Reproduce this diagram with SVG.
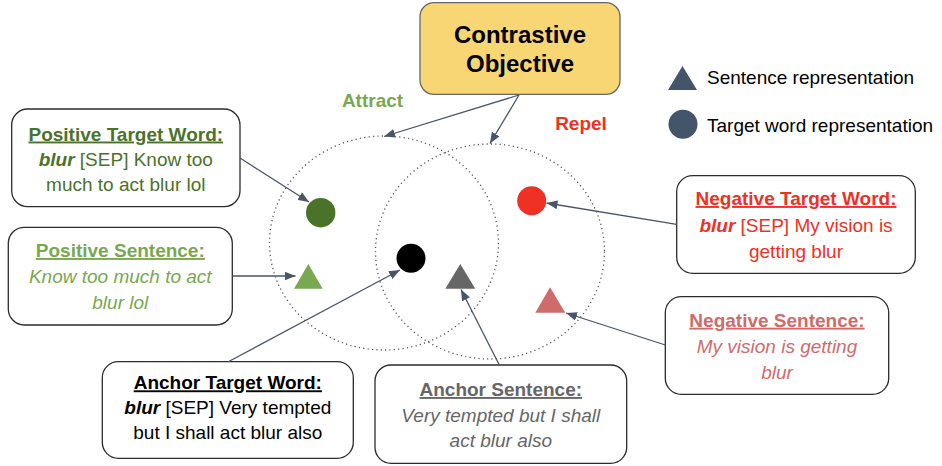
<svg xmlns="http://www.w3.org/2000/svg" width="942" height="466" viewBox="0 0 942 466">
<style>
text{font-family:"Liberation Sans",Arial,sans-serif;font-size:19px;text-anchor:middle}
.box{fill:#fff;stroke:#2b2b2b;stroke-width:1.3}
.t{font-weight:bold;text-decoration:underline}
.bi{font-weight:bold;font-style:italic}
.it{font-style:italic}
.conn line{stroke:#4a5568;stroke-width:1.3;marker-end:url(#ah)}
.dot{fill:none;stroke:#555;stroke-width:1.3;stroke-dasharray:1.2 3.2}
</style>
<defs>
<marker id="ah" viewBox="0 0 10 8" refX="10" refY="4" markerWidth="11" markerHeight="9" markerUnits="userSpaceOnUse" orient="auto">
<path d="M0,0 L10,4 L0,8 Z" fill="#4a5568"/>
</marker>
</defs>
<rect width="942" height="466" fill="#fff"/>
<g id="regions">
<ellipse class="dot" cx="384" cy="243" rx="114.5" ry="107"/>
<ellipse class="dot" cx="490" cy="251.5" rx="114.5" ry="107.5"/>
</g>
<g id="contrastive">
<rect x="420" y="2.7" width="200" height="91.6" rx="14" fill="#f8d674" stroke="#666" stroke-width="1.3"/>
<text x="520" y="43.3" style="font-size:24px;font-weight:bold">Contrastive</text>
<text x="520" y="72" style="font-size:24px;font-weight:bold">Objective</text>
</g>
<g id="labels">
<text x="372.5" y="106.7" style="font-weight:bold;fill:#7aa84f">Attract</text>
<text x="581" y="130" style="font-weight:bold;fill:#ee3124">Repel</text>
</g>
<g id="legend">
<polygon points="668,90 697,90 682.5,66" fill="#44546a"/>
<circle cx="683" cy="124.3" r="14.5" fill="#44546a"/>
<text x="707" y="84.3" style="text-anchor:start">Sentence representation</text>
<text x="707" y="132" style="text-anchor:start">Target word representation</text>
</g>
<g id="points">
<circle cx="320.7" cy="212.7" r="14.7" fill="#4a7329"/>
<polygon points="294,288.7 322.7,288.7 308.3,264" fill="#78a84f"/>
<circle cx="411" cy="258.3" r="14.5" fill="#000"/>
<polygon points="445.3,288.7 475.3,288.7 460.3,264" fill="#666"/>
<circle cx="531.7" cy="200.7" r="14.5" fill="#ee3124"/>
<polygon points="535.3,312.7 565.3,312.7 550,287.3" fill="#d06b6b"/>
</g>
<g id="pos-target" fill="#4a7329">
<rect class="box" x="11.7" y="109" width="228.3" height="97.7" rx="16"/>
<text class="t" x="125.8" y="140.5" fill="#4a7329">Positive Target Word:</text>
<text x="125.8" y="165.5" fill="#4a7329"><tspan class="bi">blur</tspan> [SEP] Know too</text>
<text x="125.8" y="190.5" fill="#4a7329">much to act blur lol</text>
</g>
<g id="pos-sentence">
<rect class="box" x="8.3" y="227.3" width="224" height="97.7" rx="16"/>
<text class="t" x="120.3" y="257" fill="#78a84f">Positive Sentence:</text>
<text class="it" x="120.3" y="283" fill="#78a84f">Know too much to act</text>
<text class="it" x="120.3" y="308.5" fill="#78a84f">blur lol</text>
</g>
<g id="anchor-target">
<rect class="box" x="102.3" y="361.7" width="251" height="96.6" rx="16"/>
<text class="t" x="227.8" y="389.3" fill="#000">Anchor Target Word:</text>
<text x="227.8" y="414" fill="#000"><tspan class="bi">blur</tspan> [SEP] Very tempted</text>
<text x="227.8" y="439" fill="#000">but I shall act blur also</text>
</g>
<g id="anchor-sentence">
<rect class="box" x="375" y="365" width="251.7" height="98.3" rx="16"/>
<text class="t" x="500.8" y="396" fill="#666">Anchor Sentence:</text>
<text class="it" x="500.8" y="421.7" fill="#666">Very tempted but I shall</text>
<text class="it" x="500.8" y="446.7" fill="#666">act blur also</text>
</g>
<g id="neg-target">
<rect class="box" x="676.7" y="175.7" width="238.6" height="97.6" rx="16"/>
<text class="t" x="796" y="205" fill="#ee3124">Negative Target Word:</text>
<text x="796" y="231.7" fill="#ee3124"><tspan class="bi">blur</tspan> [SEP] My vision is</text>
<text x="796" y="258" fill="#ee3124">getting blur</text>
</g>
<g id="neg-sentence">
<rect class="box" x="665.3" y="296.7" width="223.4" height="97.6" rx="16"/>
<text class="t" x="777" y="326.7" fill="#d06b6b">Negative Sentence:</text>
<text class="it" x="777" y="353" fill="#d06b6b">My vision is getting</text>
<text class="it" x="777" y="379.3" fill="#d06b6b">blur</text>
</g>
<g id="connectors" class="conn">
<line x1="519" y1="95" x2="384" y2="136.5"/>
<line x1="519" y1="95" x2="490" y2="143.5"/>
<line x1="240" y1="158" x2="309" y2="202"/>
<line x1="232.3" y1="276" x2="295.5" y2="276"/>
<line x1="228.3" y1="361.7" x2="400" y2="270"/>
<line x1="499.3" y1="365" x2="461" y2="289.5"/>
<line x1="676.7" y1="224.3" x2="546.5" y2="203"/>
<line x1="665.3" y1="345" x2="566" y2="313"/>
</g>
</svg>
